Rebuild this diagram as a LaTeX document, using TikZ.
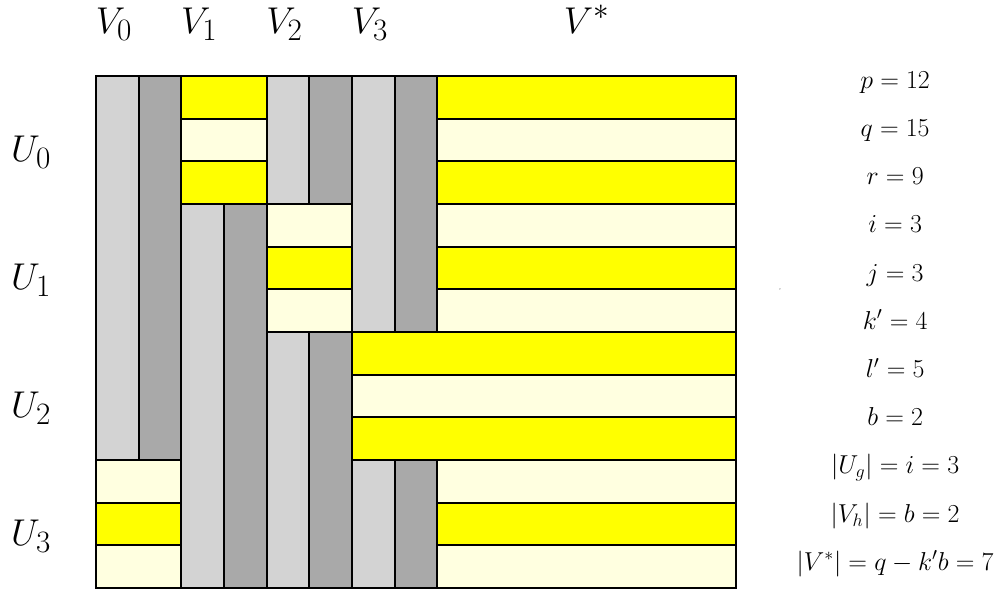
\documentclass[tikz,border=0pt]{standalone}
\begin{document}
\begin{tikzpicture}[x=1cm,y=-1cm,
  cell/.style={draw=black,line width=1.3pt},
  lg/.style={cell,fill=lgray},
  dg/.style={cell,fill=dgray},
  ye/.style={cell,fill=yel},
  ly/.style={cell,fill=lyel},
  biglab/.style={font=\Huge,anchor=base,inner sep=0pt},
  parlab/.style={font=\LARGE,anchor=base,inner sep=0pt}]
\definecolor{lgray}{HTML}{D3D3D3}
\definecolor{dgray}{HTML}{A9A9A9}
\definecolor{yel}{HTML}{FFFF00}
\definecolor{lyel}{HTML}{FFFFE0}
\useasboundingbox (-2.25,-1.78125) rectangle (21.328,12.047);
% V0
\filldraw[lg] (0,0) rectangle (1,9);
\filldraw[dg] (1,0) rectangle (2,9);
\filldraw[ly] (0,9) rectangle (2,10);
\filldraw[ye] (0,10) rectangle (2,11);
\filldraw[ly] (0,11) rectangle (2,12);
% V1
\filldraw[ye] (2,0) rectangle (4,1);
\filldraw[ly] (2,1) rectangle (4,2);
\filldraw[ye] (2,2) rectangle (4,3);
\filldraw[lg] (2,3) rectangle (3,12);
\filldraw[dg] (3,3) rectangle (4,12);
% V2
\filldraw[lg] (4,0) rectangle (5,3);
\filldraw[dg] (5,0) rectangle (6,3);
\filldraw[ly] (4,3) rectangle (6,4);
\filldraw[ye] (4,4) rectangle (6,5);
\filldraw[ly] (4,5) rectangle (6,6);
\filldraw[lg] (4,6) rectangle (5,12);
\filldraw[dg] (5,6) rectangle (6,12);
% V3
\filldraw[lg] (6,0) rectangle (7,6);
\filldraw[dg] (7,0) rectangle (8,6);
\filldraw[ye] (6,6) rectangle (15,7);
\filldraw[ly] (6,7) rectangle (15,8);
\filldraw[ye] (6,8) rectangle (15,9);
\filldraw[lg] (6,9) rectangle (7,12);
\filldraw[dg] (7,9) rectangle (8,12);
% V*
\filldraw[ye] (8,0) rectangle (15,1);
\filldraw[ly] (8,1) rectangle (15,2);
\filldraw[ye] (8,2) rectangle (15,3);
\filldraw[ly] (8,3) rectangle (15,4);
\filldraw[ye] (8,4) rectangle (15,5);
\filldraw[ly] (8,5) rectangle (15,6);
\filldraw[ly] (8,9) rectangle (15,10);
\filldraw[ye] (8,10) rectangle (15,11);
\filldraw[ly] (8,11) rectangle (15,12);
% column labels
\node[biglab] (v0) at (0.42,-1.0) {$V_0$};
\node[biglab] (v1) at (2.42,-1.0) {$V_1$};
\node[biglab] (v2) at (4.42,-1.0) {$V_2$};
\node[biglab] (v3) at (6.42,-1.0) {$V_3$};
\node[biglab] (vs) at (11.5,-1.0) {$V^*$};
% row labels
\node[biglab] (u0) at (-1.52,2) {$U_0$};
\node[biglab] (u1) at (-1.52,5) {$U_1$};
\node[biglab] (u2) at (-1.52,8) {$U_2$};
\node[biglab] (u3) at (-1.52,11) {$U_3$};
% parameters
\node[parlab] (pp) at (18.73,0.286) {$p=12$};
\node[parlab] (pq) at (18.73,1.416) {$q=15$};
\node[parlab] (pr) at (18.73,2.546) {$r=9$};
\node[parlab] (pi) at (18.73,3.676) {$i=3$};
\node[parlab] (pj) at (18.73,4.806) {$j=3$};
\node[parlab] (pk) at (18.73,5.936) {$k'=4$};
\node[parlab] (pl) at (18.73,7.066) {$l'=5$};
\node[parlab] (pb) at (18.73,8.196) {$b=2$};
\node[parlab] (pu) at (18.73,9.326) {$|U_g|=i=3$};
\node[parlab] (pv) at (18.73,10.456) {$|V_h|=b=2$};
\node[parlab] (pw) at (18.73,11.586) {$|V^*|=q-k'b=7$};
% stray dot
\fill[black!70] (16.03,4.99) circle (0.014);
\end{tikzpicture}
\end{document}
